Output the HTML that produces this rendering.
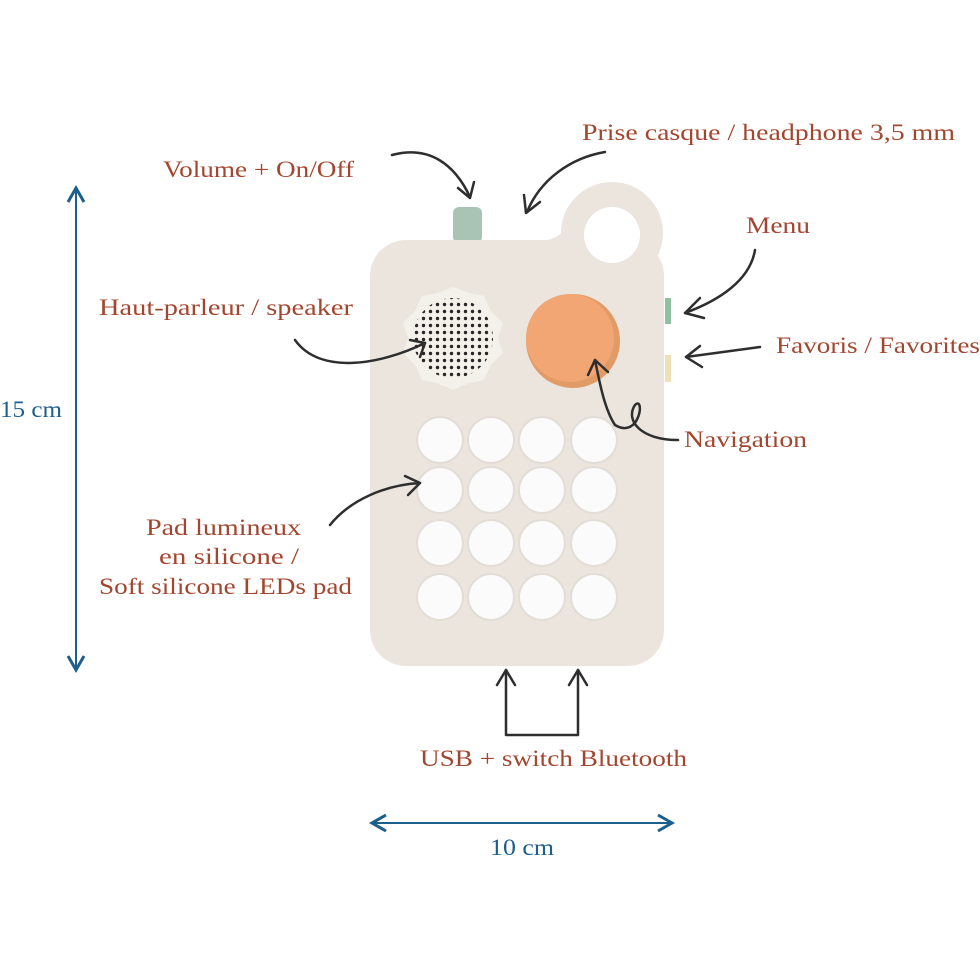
<!DOCTYPE html>
<html><head><meta charset="utf-8"><style>
html,body{margin:0;padding:0;background:#fff;}
svg{display:block}
text{font-family:"Liberation Serif",serif;font-size:23px;fill:#a2462f;}
</style></head><body>
<svg width="980" height="980" viewBox="0 0 980 980" xmlns="http://www.w3.org/2000/svg">
<defs>
<pattern id="dots" width="7" height="7" patternUnits="userSpaceOnUse"><circle cx="3.5" cy="3.5" r="1.7" fill="#2a2626"/></pattern>
<marker id="ab" markerWidth="10" markerHeight="10" refX="8" refY="5" orient="auto-start-reverse"><path d="M1,1 L8,5 L1,9" fill="none" stroke="#1c5e8c" stroke-width="1.5"/></marker>
</defs>
<rect x="453" y="207" width="29" height="36" rx="6" fill="#a9c3b4"/>
<circle cx="612" cy="233" r="51" fill="#ebe5dd"/>
<rect x="370" y="240" width="294" height="426" rx="36" fill="#ebe5dd"/>
<path d="M540,241 L575,241 L575,212 C568,230 558,240 540,241 Z" fill="#ebe5dd"/>
<circle cx="612" cy="235" r="28" fill="#fff"/>
<rect x="665" y="298" width="6" height="26" fill="#8fc0a2"/>
<rect x="665" y="355" width="6" height="27" fill="#f0e0b8"/>
<polygon points="453,287 469,293 484,296 491,311 503,323 498,338 503,353 491,365 484,380 469,383 453,390 437,383 422,380 415,365 403,353 408,338 403,323 415,311 422,296 437,293" fill="#f4f0ea"/>
<circle cx="453" cy="338" r="40" fill="url(#dots)"/>
<circle cx="573" cy="341" r="47" fill="#e19b67"/>
<circle cx="570" cy="338" r="44" fill="#f1a673"/>
<g fill="#fbfbfb" stroke="#e2ddd6" stroke-width="2">
<circle cx="440" cy="440" r="23"/><circle cx="491" cy="440" r="23"/><circle cx="542" cy="440" r="23"/><circle cx="594" cy="440" r="23"/>
<circle cx="440" cy="490" r="23"/><circle cx="491" cy="490" r="23"/><circle cx="542" cy="490" r="23"/><circle cx="594" cy="490" r="23"/>
<circle cx="440" cy="543" r="23"/><circle cx="491" cy="543" r="23"/><circle cx="542" cy="543" r="23"/><circle cx="594" cy="543" r="23"/>
<circle cx="440" cy="597" r="23"/><circle cx="491" cy="597" r="23"/><circle cx="542" cy="597" r="23"/><circle cx="594" cy="597" r="23"/>
</g>
<g fill="none" stroke="#2e2e2e" stroke-width="2.5" stroke-linecap="round" stroke-linejoin="round">
<path d="M392,155 C430,145 455,165 470,197"/><path d="M458,188 L470,198 L474,182"/>
<path d="M605,152 C570,158 540,180 527,212"/><path d="M524,195 L526,213 L540,202"/>
<path d="M755,250 C750,280 720,300 685,313"/><path d="M700,298 L685,313 L704,318"/>
<path d="M760,347 L686,357"/><path d="M700,346 L686,357 L702,367"/>
<path d="M295,340 C320,375 380,365 425,343"/><path d="M410,340 L425,343 L420,357"/>
<path d="M678,440 C640,440 625,420 635,405 C645,395 640,440 615,425 C605,410 600,385 595,360"/><path d="M588,375 L595,360 L608,372"/>
<path d="M330,525 C350,500 385,485 420,483"/><path d="M405,476 L420,483 L408,495"/>
<path d="M506,670 L506,735 L578,735 L578,670"/><path d="M497,685 L506,670 L515,685"/><path d="M569,685 L578,670 L587,685"/>
</g>
<g stroke="#1c5e8c" stroke-width="2" fill="none">
<line x1="76" y1="188" x2="76" y2="670" marker-start="url(#ab)" marker-end="url(#ab)"/>
<line x1="372" y1="823" x2="672" y2="823" marker-start="url(#ab)" marker-end="url(#ab)"/>
</g>
<text x="163" y="177" textLength="191" lengthAdjust="spacingAndGlyphs">Volume + On/Off</text>
<text x="582" y="140" textLength="373" lengthAdjust="spacingAndGlyphs">Prise casque / headphone 3,5 mm</text>
<text x="746" y="233" textLength="64" lengthAdjust="spacingAndGlyphs">Menu</text>
<text x="776" y="353" textLength="204" lengthAdjust="spacingAndGlyphs">Favoris / Favorites</text>
<text x="99" y="315" textLength="254" lengthAdjust="spacingAndGlyphs">Haut-parleur / speaker</text>
<text x="684" y="447" textLength="123" lengthAdjust="spacingAndGlyphs">Navigation</text>
<text x="146" y="535" textLength="155" lengthAdjust="spacingAndGlyphs">Pad lumineux</text>
<text x="159" y="564" textLength="140" lengthAdjust="spacingAndGlyphs">en silicone /</text>
<text x="99" y="594" textLength="253" lengthAdjust="spacingAndGlyphs">Soft silicone LEDs pad</text>
<text x="420" y="766" textLength="267" lengthAdjust="spacingAndGlyphs">USB + switch Bluetooth</text>
<text x="0" y="417" style="fill:#1c5e8c" textLength="62" lengthAdjust="spacingAndGlyphs">15 cm</text>
<text x="490" y="855" style="fill:#1c5e8c" textLength="64" lengthAdjust="spacingAndGlyphs">10 cm</text>
</svg>
</body></html>
